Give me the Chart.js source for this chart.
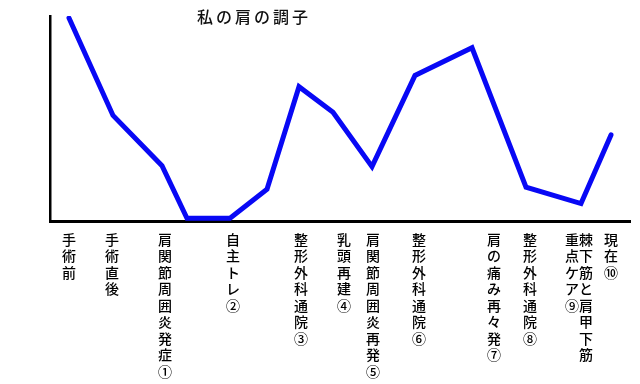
<!DOCTYPE html>
<html>
<head>
<meta charset="utf-8">
<script src="https://cdn.jsdelivr.net/npm/chart.js@4"></script>
<style>
  html, body { margin: 0; padding: 0; background: #fff; }
  #wrap { width: 640px; height: 384px; }
</style>
</head>
<body>
<div id="wrap"><canvas id="c" width="640" height="384"></canvas></div>
<script>
// Data
const titleText = "私の肩の調子";
const pointX = [19, 63, 112, 137, 180, 217, 249, 283, 322, 365, 422, 476, 531, 561];
const pointY = [99, 51.5, 27, 1.3, 1.3, 15.5, 65.5, 53, 26.5, 71, 84.5, 16.5, 8.5, 42];
const tickPos = [19, 62, 115, 183, 251, 294, 323, 369, 444, 480, 529, 561];
const tickLabels = [
  ["手","術","前"],
  ["手","術","直","後"],
  ["肩","関","節","周","囲","炎","発","症","①"],
  ["自","主","ト","レ","②"],
  ["整","形","外","科","通","院","③"],
  ["乳","頭","再","建","④"],
  ["肩","関","節","周","囲","炎","再","発","⑤"],
  ["整","形","外","科","通","院","⑥"],
  ["肩","の","痛","み","再","々","発","⑦"],
  ["整","形","外","科","通","院","⑧"],
  ["重棘","点下","ケ筋","アと","⑨肩","　甲","　下","　筋"],
  ["現","在","⑩"]
];

const points = pointX.map((x, i) => ({ x: x, y: pointY[i] }));

const titlePlugin = {
  id: 'floatTitle',
  afterDraw(chart) {
    const ctx = chart.ctx;
    ctx.save();
    ctx.font = '500 16px "Noto Sans CJK JP"';
    ctx.fillStyle = '#111';
    ctx.textAlign = 'center';
    ctx.textBaseline = 'middle';
    try { ctx.letterSpacing = '3px'; } catch (e) {}
    ctx.fillText(titleText, 254, 17);
    ctx.restore();
  }
};

new Chart(document.getElementById('c'), {
  type: 'line',
  data: {
    datasets: [{
      data: points,
      borderColor: 'rgb(8,8,245)',
      borderWidth: 5,
      borderJoinStyle: 'miter',
      borderCapStyle: 'round',
      pointRadius: 0,
      tension: 0,
      fill: false
    }]
  },
  options: {
    responsive: false,
    animation: false,
    layout: { padding: { top: 16, right: 10, left: 0, bottom: 0 } },
    plugins: { legend: { display: false }, title: { display: false }, tooltip: { enabled: false } },
    scales: {
      x: {
        type: 'linear',
        min: 0,
        max: 580,
        grid: { display: false, drawTicks: false },
        border: { display: true, color: '#000', width: 3 },
        afterBuildTicks(scale) {
          scale.ticks = tickPos.map(v => ({ value: v }));
        },
        afterFit(scale) { scale.height = 163; },
        ticks: {
          autoSkip: false,
          maxRotation: 0,
          minRotation: 0,
          padding: 10,
          color: '#000',
          font: { family: '"Noto Sans CJK JP"', size: 14, weight: '500', lineHeight: 1.18 },
          callback(value, index) { return tickLabels[index]; }
        }
      },
      y: {
        min: 0,
        max: 100,
        grid: { display: false, drawTicks: false },
        border: { display: true, color: '#000', width: 2.5 },
        ticks: { display: false },
        afterFit(scale) { scale.width = 50; }
      }
    }
  },
  plugins: [titlePlugin]
});
</script>
</body>
</html>
